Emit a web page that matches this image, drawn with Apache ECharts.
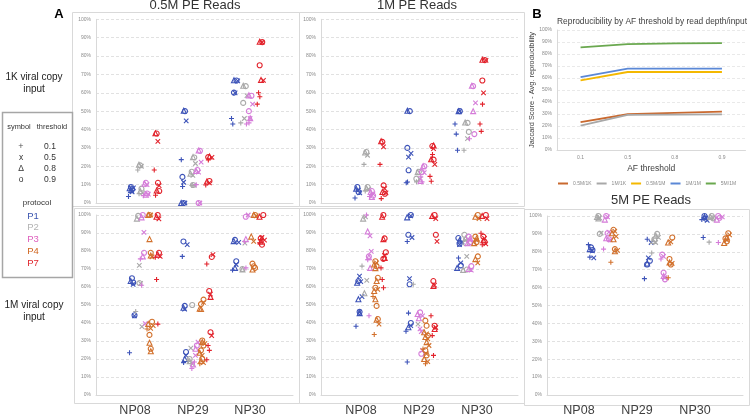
<!DOCTYPE html>
<html>
<head>
<meta charset="utf-8">
<script src="https://cdn.jsdelivr.net/npm/echarts@6/dist/echarts.min.js"></script>
<style>
  html, body { margin: 0; padding: 0; background: #fff; }
  #chart { width: 750px; height: 417px; }
</style>
</head>
<body>
<div id="chart"></div>
<script>
// categories
var samples = ['NP08', 'NP29', 'NP30']
var protocols = ['P1', 'P2', 'P3', 'P4', 'P7']
var thresholds = ['0.1', '0.5', '0.8', '0.9']

// scatter points: [sample, protocol, threshold, value %]
var reads05_1K = [
  [0,0,3,8.7],[0,0,2,8],[0,0,3,7.5],[0,0,1,6],[0,0,2,7],[0,0,0,3.5],[0,0,1,8.2],
  [0,1,3,20.5],[0,1,2,20.8],[0,1,1,20],[0,1,0,18],[0,1,3,7.8],[0,1,2,6.5],[0,1,1,5.5],[0,1,0,5],
  [0,2,3,11],[0,2,2,10.5],[0,2,1,10],[0,2,3,5.2],[0,2,2,4.5],[0,2,1,4.8],[0,2,0,4],
  [0,4,3,37.8],[0,4,2,38],[0,4,1,33.6],[0,4,0,18],[0,4,3,11],[0,4,1,9.5],[0,4,2,6.8],[0,4,3,6.5],[0,4,0,4.2],
  [1,0,3,50],[1,0,2,50.2],[1,0,1,44.7],[1,0,0,23.6],[1,0,3,14.2],[1,0,1,11.3],[1,0,0,9],[1,0,3,0],[1,0,2,0],[1,0,1,0],
  [1,1,3,24.8],[1,1,2,25],[1,1,1,21.5],[1,1,3,17],[1,1,2,16],[1,1,1,15],[1,1,3,9.8],[1,1,1,9.6],[1,1,0,9.6],
  [1,2,3,28.4],[1,2,2,28.6],[1,2,1,22.3],[1,2,3,18],[1,2,2,17.4],[1,2,1,16.8],[1,2,0,10],[1,2,3,0],[1,2,1,0],
  [1,4,3,25],[1,4,2,25.3],[1,4,1,24.8],[1,4,0,23.4],[1,4,3,12],[1,4,2,11.7],[1,4,1,11],[1,4,0,9.8],
  [2,0,3,66.7],[2,0,2,66.8],[2,0,1,66.5],[2,0,1,60],[2,0,3,60.1],[2,0,0,46],[2,0,0,43],
  [2,1,3,63.6],[2,1,2,63.8],[2,1,1,58.4],[2,1,3,54.5],[2,1,1,46],[2,1,0,43.6],
  [2,2,3,58.4],[2,2,2,58.6],[2,2,1,53.8],[2,2,3,50],[2,2,1,46],[2,2,2,46.2],[2,2,0,43.6],[2,2,0,43],
  [2,4,3,87.6],[2,4,2,87.8],[2,4,1,87.5],[2,4,3,75],[2,4,1,66.7],[2,4,2,67],[2,4,0,60],[2,4,0,57.8],[2,4,0,53.8]
]

var reads1M_1K = [
  [0,0,3,8.7],[0,0,2,7.8],[0,0,1,7],[0,0,3,6],[0,0,1,5.5],[0,0,0,2.7],
  [0,1,3,27.8],[0,1,2,27.5],[0,1,1,26],[0,1,0,21],[0,1,3,8.7],[0,1,2,8],[0,1,1,7.5],[0,1,0,6.5],
  [0,2,3,6.5],[0,2,2,6],[0,2,1,5],[0,2,3,4],[0,2,2,3.3],[0,2,0,3.5],
  [0,4,3,33.3],[0,4,2,33.6],[0,4,1,30.5],[0,4,0,21],[0,4,3,9.6],[0,4,1,7.8],[0,4,2,6],[0,4,3,5],[0,4,1,5.5],[0,4,0,2.4],
  [1,0,3,50],[1,0,2,50.2],[1,0,3,30],[1,0,1,27],[1,0,1,25],[1,0,3,17.8],[1,0,0,11],[1,0,0,11.4],
  [1,1,3,17],[1,1,2,16.8],[1,1,1,13],[1,1,3,13.2],[1,1,0,11.5],
  [1,2,3,20],[1,2,2,20],[1,2,1,16.5],[1,2,3,16.8],[1,2,0,14.2],[1,2,0,11.5],[1,2,2,12],
  [1,4,3,31],[1,4,2,31.3],[1,4,1,29.6],[1,4,0,26.4],[1,4,3,23.6],[1,4,2,23.8],[1,4,1,21],[1,4,0,14.5],[1,4,0,11.8],
  [2,0,3,50],[2,0,2,50],[2,0,1,50],[2,0,0,43],[2,0,0,37.5],[2,0,0,28.7],
  [2,1,3,43.6],[2,1,2,43.8],[2,1,3,38.7],[2,1,1,35],[2,1,0,28.7],
  [2,2,3,63.6],[2,2,2,63.8],[2,2,1,54.5],[2,2,2,50],[2,2,3,37.5],[2,2,0,35],
  [2,4,3,77.8],[2,4,2,78],[2,4,1,77.6],[2,4,3,66.7],[2,4,1,60],[2,4,0,53.8],[2,4,0,43],[2,4,0,39]
]

var reads05_1M = [
  [0,0,3,64.9],[0,0,2,63.3],[0,0,1,61.5],[0,0,3,62.5],[0,0,1,44],[0,0,3,44.3],[0,0,0,23.5],
  [0,1,3,99.5],[0,1,2,98],[0,1,1,72],[0,1,1,62],[0,1,3,62.2],[0,1,0,46.4],[0,1,1,38],
  [0,2,3,100],[0,2,2,98.7],[0,2,1,90.3],[0,2,3,79],[0,2,2,77],[0,2,0,75.6],[0,2,0,61],[0,2,1,39.6],
  [0,3,3,100],[0,3,2,100],[0,3,1,100],[0,3,2,86.6],[0,3,3,79],[0,3,2,77.5],[0,3,1,76.8],[0,3,3,40.7],[0,3,2,39.5],[0,3,1,38.5],[0,3,1,37],[0,3,0,36.7],[0,3,3,33.4],[0,3,2,29],[0,3,3,25.7],[0,3,2,24.3],
  [0,4,3,100],[0,4,2,99],[0,4,1,97.8],[0,4,3,79],[0,4,2,78],[0,4,1,77],[0,4,0,76.5],[0,4,0,64.2],[0,4,0,39.4],
  [1,0,3,85.3],[1,0,1,83.5],[1,0,0,77],[1,0,3,49.5],[1,0,2,48.5],[1,0,1,47.7],[1,0,3,23.9],[1,0,1,22],[1,0,2,20],[1,0,0,18],
  [1,1,3,50],[1,1,1,26],[1,1,3,20],[1,1,2,18.8],[1,1,1,17.4],[1,1,0,19],
  [1,2,1,29.4],[1,2,3,27.5],[1,2,2,25.7],[1,2,1,22],[1,2,0,18.3],[1,2,0,14.7],[1,2,2,17],
  [1,3,3,53],[1,3,1,51.5],[1,3,3,50.5],[1,3,2,48],[1,3,2,47.8],[1,3,3,30.3],[1,3,2,29.5],[1,3,1,28.5],[1,3,3,27.5],[1,3,3,24.8],[1,3,2,23.5],[1,3,1,22],[1,3,3,20],[1,3,2,19],[1,3,1,18],[1,3,0,17.4],
  [1,4,1,78],[1,4,3,76.7],[1,4,0,72.8],[1,4,3,57.8],[1,4,1,56],[1,4,2,54.5],[1,4,3,34.9],[1,4,1,33],[1,4,0,27.5],[1,4,0,24.8],[1,4,0,19.6],
  [2,0,3,86.2],[2,0,2,85.5],[2,0,1,84.8],[2,0,3,74.3],[2,0,1,72.5],[2,0,2,70.6],[2,0,0,69.4],
  [2,1,1,84.4],[2,1,3,70],[2,1,2,69.7],
  [2,2,1,100],[2,2,3,99],[2,2,2,86.6],[2,2,0,85.3],[2,2,0,70.6],
  [2,3,3,100],[2,3,2,100],[2,3,1,99.5],[2,3,2,88],[2,3,1,85.3],[2,3,3,73],[2,3,3,71.5],[2,3,3,70.6],[2,3,2,69.7],
  [2,4,3,100],[2,4,2,99],[2,4,3,87],[2,4,1,86],[2,4,2,85.2],[2,4,0,84.5],[2,4,3,83.5],[2,4,1,87.5],[2,4,0,86.3]
]

var reads1M_1M = [
  [0,0,1,66],[0,0,3,63.3],[0,0,2,62.4],[0,0,1,63],[0,0,1,54.7],[0,0,2,53.2],[0,0,3,46.2],[0,0,1,46],[0,0,2,45.5],[0,0,0,38.2],
  [0,1,1,99],[0,1,2,98],[0,1,0,71.6],[0,1,1,63.7],[0,1,2,56.5],
  [0,2,0,100],[0,2,2,90.8],[0,2,1,88.4],[0,2,1,79.8],[0,2,3,77],[0,2,2,76.5],[0,2,0,75.2],[0,2,2,70.6],[0,2,0,44],
  [0,3,3,74.3],[0,3,1,73.4],[0,3,2,72.5],[0,3,3,71.6],[0,3,2,70.5],[0,3,3,65.1],[0,3,2,63.3],[0,3,3,59.6],[0,3,1,58.7],[0,3,2,57.8],[0,3,0,54.7],[0,3,2,53.2],[0,3,3,49.5],[0,3,3,42.2],[0,3,2,41.8],[0,3,1,39.4],[0,3,0,33.6],
  [0,4,3,100],[0,4,2,99],[0,4,2,86.6],[0,4,3,87],[0,4,3,79.3],[0,4,1,77.5],[0,4,2,76.2],[0,4,3,75.6],[0,4,0,70.6],[0,4,0,64.2],[0,4,0,59.6],
  [1,0,3,100],[1,0,1,99.5],[1,0,2,98.7],[1,0,3,89],[1,0,1,87.5],[1,0,0,85.3],[1,0,1,64.6],[1,0,3,61.5],[1,0,0,45.5],[1,0,3,40],[1,0,1,38.5],[1,0,2,37.6],[1,0,0,35.4],[1,0,0,18.3],
  [1,1,0,61.5],[1,1,1,39.4],
  [1,2,3,45.9],[1,2,2,45],[1,2,1,44],[1,2,2,42.6],[1,2,1,36.7],[1,2,1,35.2],[1,2,1,24.8],[1,2,3,22.9],
  [1,3,3,41.3],[1,3,3,38.5],[1,3,2,34.9],[1,3,1,34],[1,3,3,33],[1,3,2,32.2],[1,3,1,31.2],[1,3,2,29.4],[1,3,1,27.5],[1,3,3,24.8],[1,3,1,22.8],[1,3,3,22],[1,3,2,20],[1,3,1,18.5],[1,3,0,17.4],[1,3,0,25.5],
  [1,4,3,100],[1,4,2,99.5],[1,4,1,98],[1,4,3,89],[1,4,1,85.3],[1,4,3,63.3],[1,4,1,61],[1,4,2,60.6],[1,4,0,44],[1,4,3,38.5],[1,4,1,37.5],[1,4,2,36.7],[1,4,0,33],[1,4,0,22],
  [2,0,3,87.2],[2,0,2,86],[2,0,1,85],[2,0,3,84],[2,0,1,83.5],[2,0,0,76.1],[2,0,1,73.4],[2,0,3,72],[2,0,2,70.6],
  [2,1,3,89],[2,1,2,87],[2,1,1,86],[2,1,3,84.4],[2,1,1,77],[2,1,3,69.7],[2,1,2,69.5],
  [2,2,3,88],[2,2,2,87],[2,2,1,86],[2,2,3,85],[2,2,2,84.4],[2,2,3,71.6],[2,2,2,70],[2,2,1,69.4],
  [2,3,3,100],[2,3,2,99],[2,3,1,98],[2,3,3,88],[2,3,2,87],[2,3,1,86],[2,3,3,85],[2,3,2,84.4],[2,3,3,77],[2,3,2,75.5],[2,3,1,73.4],
  [2,4,3,100],[2,4,2,99.5],[2,4,1,98],[2,4,0,89.9],[2,4,3,88],[2,4,1,87],[2,4,2,86],[2,4,3,85],[2,4,1,84],[2,4,0,83.5]
]

var reads5M_1M = [
  [0,0,0,84],[0,0,3,82.5],[0,0,2,81.5],[0,0,1,80.5],[0,0,3,81],[0,0,1,76.6],[0,0,0,77],
  [0,1,3,100],[0,1,2,99.5],[0,1,1,99],[0,1,2,98.7],[0,1,1,90.4],[0,1,3,90],
  [0,2,3,100],[0,2,1,99.5],[0,2,2,98],[0,2,1,91],[0,2,3,90.4],[0,2,2,87.6],[0,2,3,87],[0,2,1,86.7],[0,2,0,81.5],
  [0,3,3,92.3],[0,3,1,91.5],[0,3,2,90.4],[0,3,1,88.6],[0,3,2,87],[0,3,3,81.5],[0,3,1,80.8],[0,3,2,80.3],[0,3,0,74.2],
  [1,0,0,87],[1,0,1,85.2],[1,0,1,76.6],[1,0,3,75],[1,0,2,73.5],[1,0,3,72.9],[1,0,0,65],
  [1,1,3,90],[1,1,2,89],[1,1,1,88],[1,1,3,87],[1,1,2,86],[1,1,1,85.2],[1,1,0,79.3],
  [1,2,3,78.4],[1,2,1,77.5],[1,2,0,76],[1,2,3,68.3],[1,2,2,66.5],[1,2,1,65.5],[1,2,3,64.6],
  [1,3,3,88],[1,3,2,85.2],[1,3,1,85.5],[1,3,3,76],[1,3,2,74],[1,3,1,73.5],[1,3,3,72.9],[1,3,0,65.5],
  [2,0,3,100],[2,0,2,99.5],[2,0,1,99],[2,0,3,98.5],[2,0,1,97.5],[2,0,0,98],[2,0,0,88],
  [2,1,3,100],[2,1,2,99.5],[2,1,1,99],[2,1,3,98.7],[2,1,0,85.4],
  [2,2,3,100],[2,2,1,99.5],[2,2,2,98],[2,2,3,99],[2,2,0,85.2],
  [2,3,3,90.4],[2,3,1,89.5],[2,3,2,88],[2,3,3,87.5],[2,3,1,86.5],[2,3,3,85.8],[2,3,2,84.9]
]

// panel B: avg Jaccard by AF threshold
var bNames = ['0.5M/1K', '1M/1K', '0.5M/1M', '1M/1M', '5M/1M']
var j05_1K = [23.2, 29.8, 31, 32]
var j1M_1K = [20.3, 29.2, 29.4, 29.7]
var j05_1M = [58.1, 65, 65, 65]
var j1M_1M = [60.8, 67.8, 67.8, 67.8]
var j5M_1M = [85.6, 88.2, 88.8, 89]

// ---- styling ----
var font = 'Liberation Sans, Arial, sans-serif'
var protoColors = ['#3d53b8', '#a9a9a9', '#d57cd9', '#d2712d', '#e2232c']
var legendColors = ['#3b55b0', '#b3b3b3', '#de5fbd', '#d0651f', '#e0242b']
var bColors = ['#c9692f', '#a8a8a8', '#f4b800', '#5b88d6', '#6aa84f']
var symbols = ['path://M5,0L5,10M0,5L10,5', 'path://M0,0L10,10M10,0L0,10', 'triangle', 'circle']
var symSize = [5, 4.5, 5, 5]
var thrJit = [-0.035, 0.035, -0.012, 0.012]

var topOff = [-0.26, -0.08, 0.03, 0.12, 0.24]
var botOff = [-0.24, -0.12, -0.03, 0.1, 0.26]
var rightOff = [-0.2, -0.07, 0.07, 0.2, 0.3]

var panels = [
  { data: reads05_1K, grid: { left: 96, top: 19.3, width: 197, height: 183.7 }, x: [-0.951, 2.874], lab: null, off: topOff },
  { data: reads1M_1K, grid: { left: 321, top: 19.3, width: 197, height: 183.7 }, x: [-1.0, 2.94], lab: null, off: topOff },
  { data: reads05_1M, grid: { left: 96, top: 215, width: 197, height: 181.7 }, x: [-0.951, 2.874], lab: [-0.194, 0.932, 2.039], off: botOff },
  { data: reads1M_1M, grid: { left: 321, top: 215, width: 197, height: 181.7 }, x: [-1.0, 2.94], lab: [-0.2, 0.96, 2.12], off: botOff },
  { data: reads5M_1M, grid: { left: 547, top: 216, width: 196, height: 180.7 }, x: [-1.0, 2.5], lab: [-0.429, 0.607, 1.643], off: rightOff }
]

var grids = [], xAxes = [], yAxes = [], series = []

panels.forEach(function (pn, gi) {
  grids.push(pn.grid)
  xAxes.push({
    type: 'value', gridIndex: gi, min: pn.x[0], max: pn.x[1],
    axisLine: { show: true, onZero: false, lineStyle: { color: '#d9d9d9' } },
    axisTick: { show: false },
    splitLine: { show: false },
    axisLabel: pn.lab ? {
      show: true, customValues: pn.lab, margin: 9,
      fontSize: 12.5, color: '#404040', fontFamily: font,
      formatter: function (v) {
        var best = 0
        pn.lab.forEach(function (p, i) { if (Math.abs(p - v) < Math.abs(pn.lab[best] - v)) best = i })
        return samples[best]
      }
    } : { show: false }
  })
  yAxes.push({
    type: 'value', gridIndex: gi, min: 0, max: 100, interval: 10,
    axisLine: { show: true, onZero: false, lineStyle: { color: '#d9d9d9' } },
    axisTick: { show: false },
    splitLine: { show: true, lineStyle: { color: '#d9d9d9', type: [3, 2], width: 0.8 } },
    axisLabel: { fontSize: 5, color: '#8a8a8a', fontFamily: font, margin: 5, formatter: '{value}%' }
  })
  protocols.forEach(function (pname, p) {
    thresholds.forEach(function (tname, t) {
      var pts = []
      var k = 0
      pn.data.forEach(function (d) {
        if (d[1] === p && d[2] === t) {
          var x = d[0] + pn.off[p] + thrJit[t] + ((k % 3) - 1) * 0.025
          pts.push([x, d[3]])
          k++
        }
      })
      if (!pts.length) return
      series.push({
        type: 'scatter', xAxisIndex: gi, yAxisIndex: gi,
        symbol: symbols[t], symbolSize: symSize[t],
        itemStyle: { color: 'rgba(0,0,0,0)', borderColor: protoColors[p], borderWidth: 1.1, opacity: 1 },
        silent: true, animation: false,
        data: pts
      })
    })
  })
})

// panel B line chart
grids.push({ left: 557, top: 30, width: 188.5, height: 120 })
xAxes.push({
  type: 'category', gridIndex: 5, data: thresholds, boundaryGap: true,
  axisLine: { lineStyle: { color: '#d9d9d9' } }, axisTick: { show: false },
  axisLabel: { fontSize: 5, color: '#8a8a8a', fontFamily: font, margin: 5 },
  name: 'AF threshold', nameLocation: 'middle', nameGap: 14,
  nameTextStyle: { fontSize: 8.5, color: '#404040', fontFamily: font }
})
yAxes.push({
  type: 'value', gridIndex: 5, min: 0, max: 100, interval: 10,
  axisLine: { show: true, onZero: false, lineStyle: { color: '#d9d9d9' } }, axisTick: { show: false },
  splitLine: { lineStyle: { color: '#e3e3e3', type: [3, 2], width: 0.8 } },
  axisLabel: { fontSize: 5, color: '#8a8a8a', fontFamily: font, margin: 5, formatter: '{value}%' },
  name: 'Jaccard Score - Avg. reproducibility', nameLocation: 'middle', nameGap: 20,
  nameTextStyle: { fontSize: 7.4, color: '#404040', fontFamily: font }
})
;[j05_1K, j1M_1K, j05_1M, j1M_1M, j5M_1M].forEach(function (vals, i) {
  series.push({
    name: bNames[i], type: 'line', xAxisIndex: 5, yAxisIndex: 5,
    data: vals, symbol: 'none', silent: true, animation: false,
    lineStyle: { color: bColors[i], width: 1.8 }, itemStyle: { color: bColors[i] }
  })
})

// frames, labels and the symbol/protocol key
function txt(s, x, y, size, color, opt) {
  opt = opt || {}
  return {
    type: 'text', silent: true,
    style: {
      text: s, x: x, y: y, fill: color || '#404040',
      fontSize: size, fontFamily: font, fontWeight: opt.bold ? 'bold' : 'normal',
      textAlign: opt.align || 'center', textVerticalAlign: 'middle'
    }
  }
}
function frame(x1, y1, x2, y2, stroke, w) {
  return {
    type: 'rect', silent: true, z: -1,
    shape: { x: x1 + 0.5, y: y1 + 0.5, width: x2 - x1, height: y2 - y1 },
    style: { fill: 'none', stroke: stroke || '#d9d9d9', lineWidth: w || 1 }
  }
}

var graphics = [
  frame(72, 12, 299, 206), frame(299, 12, 524, 206),
  frame(74, 208, 299, 403), frame(299, 208, 524, 403), frame(524, 209, 749, 405),
  frame(2, 112, 72, 277, '#a6a6a6', 1.5),
  txt('A', 59, 14, 13, '#000', { bold: true }),
  txt('B', 537, 14, 13, '#000', { bold: true }),
  txt('0.5M PE Reads', 195, 5, 13, '#333'),
  txt('1M PE Reads', 417, 5, 13, '#333'),
  txt('5M PE Reads', 651, 200, 13, '#333'),
  txt('Reproducibility by AF threshold by read depth/input', 652, 22, 8.4, '#404040'),
  txt('1K viral copy', 34, 77, 10, '#222'),
  txt('input', 34, 89, 10, '#222'),
  txt('1M viral copy', 34, 305, 10, '#222'),
  txt('input', 34, 317, 10, '#222'),
  txt('symbol', 19, 127, 7.4, '#333'),
  txt('threshold', 52, 127, 7.4, '#333'),
  txt('+', 21, 147, 9, '#555'),
  txt('x', 21, 158, 8.5, '#333'),
  txt('Δ', 21, 169, 8.5, '#333'),
  txt('o', 21, 180, 8.5, '#333'),
  txt('protocol', 37, 203, 8, '#333')
]
thresholds.forEach(function (t, i) { graphics.push(txt(t, 50, 147 + i * 11, 8.5, '#333')) })
protocols.forEach(function (p, i) { graphics.push(txt(p, 33, 216 + i * 11.8, 9.5, legendColors[i])) })

var chart = echarts.init(document.getElementById('chart'), null, { renderer: 'canvas' })
chart.setOption({
  animation: false,
  backgroundColor: '#fff',
  grid: grids,
  xAxis: xAxes,
  yAxis: yAxes,
  legend: {
    data: bNames, left: 553, top: 176, icon: 'rect',
    itemWidth: 10, itemHeight: 2, itemGap: 5,
    textStyle: { fontSize: 5, color: '#8a8a8a', fontFamily: font }
  },
  graphic: graphics,
  series: series
})
</script>
</body>
</html>
